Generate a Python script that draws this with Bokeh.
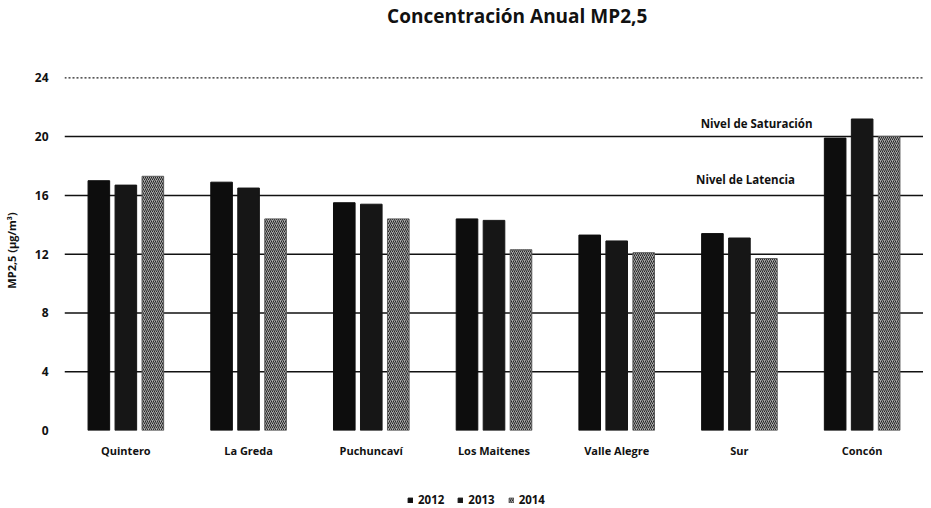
from bokeh.plotting import figure
from bokeh.layouts import column
from bokeh.models import ColumnDataSource, Span, Label, Legend, LegendItem, FactorRange
from bokeh.transform import dodge
from bokeh.embed import file_html
from bokeh.resources import INLINE

categories = ["Quintero", "La Greda", "Puchuncaví", "Los Maitenes", "Valle Alegre", "Sur", "Concón"]
y2012 = [17.0, 16.9, 15.5, 14.4, 13.3, 13.4, 19.9]
y2013 = [16.7, 16.5, 15.4, 14.3, 12.9, 13.1, 21.2]
y2014 = [17.3, 14.4, 14.4, 12.3, 12.1, 11.7, 20.0]
years = ["2012", "2013", "2014"]
y_ticks = [0, 4, 8, 12, 16, 20, 24]
solid_levels = [4, 8, 12, 16, 20]
dotted_levels = [24]
ref_levels = [20, 16]
ref_labels = ["Nivel de Saturación", "Nivel de Latencia"]
title_text = "Concentración Anual MP2,5"

FONT = "Open Sans"
INK = "#111111"

styles = [
    dict(fill_color="#0d0d0d", line_color="#0d0d0d"),
    dict(fill_color="#161616", line_color="#161616"),
    dict(fill_color="#a8a8a8", line_color="#5a5a5a", hatch_pattern="/",
         hatch_color="#262626", hatch_scale=4, hatch_weight=1),
]


def strip(height):
    f = figure(width=923, height=height, output_backend="svg", toolbar_location=None,
               x_axis_location=None, y_axis_location=None, x_range=(0, 1), y_range=(0, 1),
               min_border_left=0, min_border_right=0, min_border_top=0, min_border_bottom=0)
    f.outline_line_color = None
    f.xgrid.grid_line_color = None
    f.ygrid.grid_line_color = None
    return f


# title strip
tf = strip(32)
tf.add_layout(Label(x=0.527, y=0.53, text=title_text, text_align="center",
                    text_baseline="middle", text_font=FONT, text_font_style="bold",
                    text_font_size="19px", text_color=INK))

src = ColumnDataSource(dict(cat=categories, y2012=y2012, y2013=y2013, y2014=y2014))

p = figure(x_range=FactorRange(*categories), y_range=(0, 24.5),
           width=923, height=436, output_backend="svg", toolbar_location=None,
           min_border_left=50, min_border_right=0, min_border_top=38, min_border_bottom=38)

p.outline_line_color = None
p.xgrid.grid_line_color = None
p.ygrid.grid_line_color = None

for lv in solid_levels:
    p.add_layout(Span(location=lv, dimension="width", line_color=INK,
                      line_width=1.5, level="underlay"))
for lv in dotted_levels:
    p.add_layout(Span(location=lv, dimension="width", line_color="#222222",
                      line_width=1.2, line_dash="2 2", level="underlay"))

w = 0.176
offs = [-0.22, 0.0, 0.22]
cols = ["y2012", "y2013", "y2014"]
for col, off, st in zip(cols, offs, styles):
    p.vbar(x=dodge("cat", off, range=p.x_range), top=col, width=w, source=src, **st)

label_x = [5.64, 5.55]
label_off = [13, 16]
for lv, txt, lx, off in zip(ref_levels, ref_labels, label_x, label_off):
    p.add_layout(Label(x=lx, y=lv, y_offset=off, text=txt, text_align="center",
                       text_baseline="middle",
                       text_font=FONT, text_font_style="bold", text_font_size="11.5px",
                       text_color=INK))

p.yaxis.ticker = y_ticks
p.yaxis.axis_line_color = None
p.yaxis.major_tick_line_color = None
p.yaxis.minor_tick_line_color = None
p.yaxis.major_label_text_font = FONT
p.yaxis.major_label_text_font_style = "bold"
p.yaxis.major_label_text_font_size = "12px"
p.yaxis.major_label_text_color = INK
p.yaxis.major_label_standoff = 10
p.yaxis.axis_label = "MP2,5 (µg/m³)"
p.yaxis.axis_label_text_font = FONT
p.yaxis.axis_label_text_font_style = "bold"
p.yaxis.axis_label_text_font_size = "11px"
p.yaxis.axis_label_text_color = INK
p.yaxis.axis_label_standoff = 13

p.xaxis.axis_line_color = None
p.xaxis.major_tick_line_color = None
p.xaxis.minor_tick_line_color = None
p.xaxis.major_label_text_font = FONT
p.xaxis.major_label_text_font_style = "bold"
p.xaxis.major_label_text_font_size = "11px"
p.xaxis.major_label_text_color = INK
p.xaxis.major_label_standoff = 6

# legend strip below the chart
lf = strip(40)
dummy = ColumnDataSource(dict(x=[-10], top=[0]))
items = []
for yr, st in zip(years, styles):
    r = lf.vbar(x="x", top="top", width=0.1, source=dummy, **st)
    items.append(LegendItem(label=yr, renderers=[r]))
legend = Legend(items=items, orientation="horizontal", location=(343, 1),
                glyph_width=6, glyph_height=6, label_standoff=5, spacing=13,
                label_height=12, padding=2, margin=0,
                label_text_font=FONT, label_text_font_style="bold",
                label_text_font_size="11.5px", label_text_color=INK,
                border_line_color=None, background_fill_alpha=0)
lf.add_layout(legend)

layout = column(tf, p, lf, spacing=0)
open("out.html", "w").write(file_html(layout, INLINE))
